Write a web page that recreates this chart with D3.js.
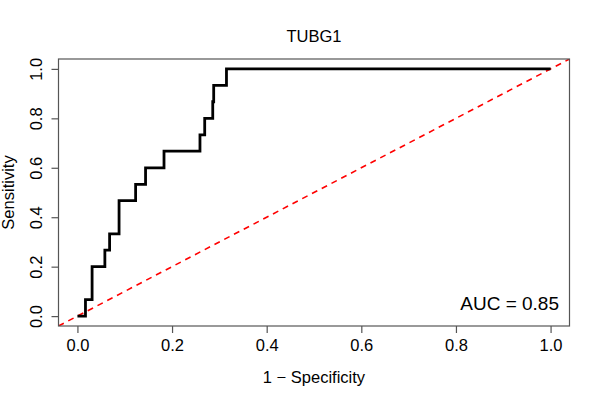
<!DOCTYPE html>
<html>
<head>
<meta charset="utf-8">
<script src="https://cdn.jsdelivr.net/npm/d3@7"></script>
<style>
  body { margin: 0; background: #fff; }
  text { font-family: "Liberation Sans", Arial, sans-serif; fill: #000; }
</style>
</head>
<body>
<svg id="chart" width="600" height="400"></svg>
<script>
// ROC curve corner points (1 - specificity, sensitivity)
const fpr = [0, 0.017, 0.031, 0.058, 0.068, 0.088, 0.123, 0.144, 0.183, 0.259, 0.269, 0.286, 0.288, 0.315, 1];
const tpr = [0, 0.067, 0.2, 0.267, 0.333, 0.467, 0.533, 0.6, 0.667, 0.733, 0.8, 0.867, 0.933, 1, 1];
const tickValues = [0, 0.2, 0.4, 0.6, 0.8, 1.0];
const chartTitle = "TUBG1";
const aucLabel = "AUC = 0.85";

const box = { left: 58.5, right: 569.5, top: 59, bottom: 326 };

const svg = d3.select("#chart");

// R style: 4% padding on each side of the data range
const x = d3.scaleLinear().domain([-0.04, 1.04]).range([box.left, box.right]);
const y = d3.scaleLinear().domain([-0.04, 1.04]).range([box.bottom, box.top]);

svg.append("clipPath").attr("id", "clip")
  .append("rect")
  .attr("x", box.left).attr("y", box.top)
  .attr("width", box.right - box.left).attr("height", box.bottom - box.top);

const plot = svg.append("g").attr("clip-path", "url(#clip)");

// diagonal reference line (abline 0,1)
plot.append("line")
  .attr("x1", x(-0.04)).attr("y1", y(-0.04))
  .attr("x2", x(1.04)).attr("y2", y(1.04))
  .attr("stroke", "#ff0000")
  .attr("stroke-width", 1.6)
  .attr("stroke-dasharray", "6,5");

const pts = fpr.map((d, i) => [d, tpr[i]]);
const line = d3.line()
  .x(d => x(d[0]))
  .y(d => y(d[1]))
  .curve(d3.curveStepAfter);

plot.append("path")
  .datum(pts)
  .attr("d", line)
  .attr("fill", "none")
  .attr("stroke", "#000")
  .attr("stroke-width", 2.8)
  .attr("stroke-linejoin", "miter");

// box
svg.append("rect")
  .attr("x", box.left).attr("y", box.top)
  .attr("width", box.right - box.left).attr("height", box.bottom - box.top)
  .attr("fill", "none")
  .attr("stroke", "#555")
  .attr("stroke-width", 1.2);

// x axis
const xAxis = svg.append("g")
  .attr("transform", `translate(0,${box.bottom})`)
  .call(d3.axisBottom(x).tickValues(tickValues).tickFormat(d3.format(".1f")).tickSizeOuter(0).tickSize(7).tickPadding(6));
xAxis.select(".domain")
  .attr("d", `M${x(0)},0H${x(1)}`)
  .attr("stroke", "#555").attr("stroke-width", 1.2);
xAxis.selectAll(".tick line").attr("stroke", "#555").attr("stroke-width", 1.2);
xAxis.selectAll(".tick text")
  .style("font-family", '"Liberation Sans", Arial, sans-serif')
  .style("font-size", "16.5px")
  .attr("fill", "#000");
xAxis.select(".domain").remove();

// y axis
const yAxis = svg.append("g")
  .attr("transform", `translate(${box.left},0)`)
  .call(d3.axisLeft(y).tickValues(tickValues).tickFormat(d3.format(".1f")).tickSizeOuter(0).tickSize(7));
yAxis.select(".domain").remove();
yAxis.selectAll(".tick line").attr("stroke", "#555").attr("stroke-width", 1.2);
yAxis.selectAll(".tick text")
  .attr("x", 0).attr("dy", null)
  .attr("transform", "translate(-17,0) rotate(-90)")
  .attr("text-anchor", "middle")
  .style("font-family", '"Liberation Sans", Arial, sans-serif')
  .style("font-size", "16.5px")
  .attr("fill", "#000");

// title
svg.append("text")
  .attr("x", (box.left + box.right) / 2)
  .attr("y", 42)
  .attr("text-anchor", "middle")
  .style("font-size", "16.5px")
  .text(chartTitle);

// axis titles
svg.append("text")
  .attr("x", (box.left + box.right) / 2)
  .attr("y", 383)
  .attr("text-anchor", "middle")
  .style("font-size", "16.5px")
  .text("1 \u2212 Specificity");

svg.append("text")
  .attr("transform", `translate(14,${(box.top + box.bottom) / 2}) rotate(-90)`)
  .attr("text-anchor", "middle")
  .style("font-size", "16.5px")
  .text("Sensitivity");

// AUC annotation
svg.append("text")
  .attr("x", 559)
  .attr("y", 310)
  .attr("text-anchor", "end")
  .style("font-size", "19px")
  .text(aucLabel);
</script>
</body>
</html>
